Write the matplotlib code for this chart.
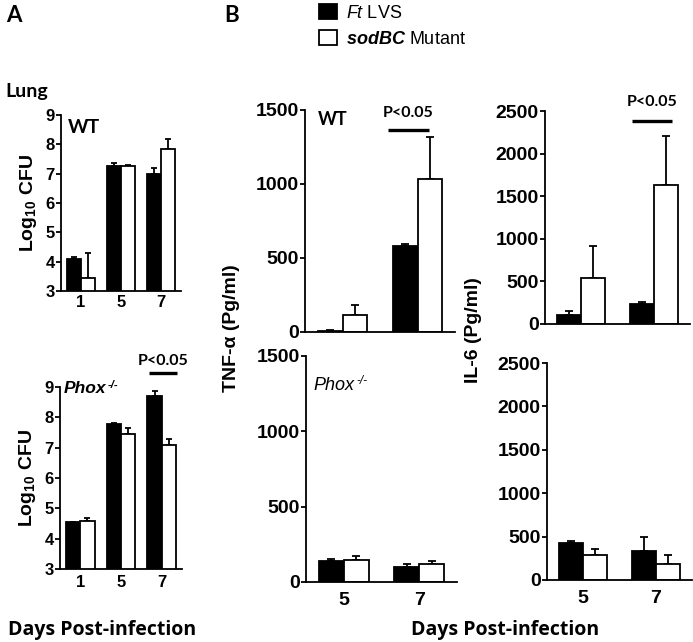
import numpy as np
import matplotlib
matplotlib.use("Agg")
import matplotlib.pyplot as plt

plt.rcParams['font.family'] = 'Liberation Sans'
plt.rcParams['mathtext.fontset'] = 'custom'
plt.rcParams['mathtext.rm'] = 'Liberation Sans'
plt.rcParams['mathtext.it'] = 'Liberation Sans:italic'
plt.rcParams['mathtext.bf'] = 'Liberation Sans:bold'
plt.rcParams['mathtext.bfit'] = 'Liberation Sans:bold:italic'

# Panel A: lung CFU (log10)
a_days = ['1', '5', '7']
a_wt_lvs = [4.10, 7.27, 6.99]
a_wt_lvs_err = [0.06, 0.11, 0.20]
a_wt_mut = [3.43, 7.27, 7.84]
a_wt_mut_err = [0.85, 0.03, 0.34]
a_phox_lvs = [4.54, 7.77, 8.71]
a_phox_lvs_err = [0.0, 0.05, 0.17]
a_phox_mut = [4.57, 7.45, 7.09]
a_phox_mut_err = [0.10, 0.19, 0.20]

# Panel B: cytokines (pg/ml)
b_days = ['5', '7']
tnf_wt_lvs = [10, 582]
tnf_wt_lvs_err = [6, 11]
tnf_wt_mut = [113, 1031]
tnf_wt_mut_err = [72, 284]
il6_wt_lvs = [106, 235]
il6_wt_lvs_err = [47, 27]
il6_wt_mut = [536, 1631]
il6_wt_mut_err = [379, 579]
tnf_phox_lvs = [137, 99]
tnf_phox_lvs_err = [18, 22]
tnf_phox_mut = [148, 119]
tnf_phox_mut_err = [22, 20]
il6_phox_lvs = [423, 335]
il6_phox_lvs_err = [31, 165]
il6_phox_mut = [288, 181]
il6_phox_mut_err = [66, 107]

W, H = 693, 642
fig = plt.figure(figsize=(W / 100, H / 100), dpi=100)


def box(left, right, top, bottom):
    return [left / W, 1 - bottom / H, (right - left) / W, (bottom - top) / H]


def bar_panel(rect, lvs, lvs_err, mut, mut_err, ylim, yticks, width, tick_size,
              labels=None, label_pad=4):
    ax = fig.add_axes(rect)
    x = np.arange(len(lvs))
    b1 = ax.bar(x - width / 2, lvs, width, color='black', edgecolor='black',
                linewidth=1.3, zorder=2)
    b2 = ax.bar(x + width / 2, mut, width, color='white', edgecolor='black',
                linewidth=1.3, zorder=2)
    cap = 3.0 if width < 0.34 else 2.2
    ax.errorbar(x - width / 2, lvs, yerr=[np.zeros(len(lvs)), lvs_err], fmt='none',
                ecolor='black', elinewidth=1.3, capsize=cap, capthick=1.3, zorder=1.5)
    ax.errorbar(x + width / 2, mut, yerr=[np.zeros(len(mut)), mut_err], fmt='none',
                ecolor='black', elinewidth=1.3, capsize=cap, capthick=1.3, zorder=1.5)
    ax.set_xlim(-0.5, len(lvs) - 0.5)
    ax.set_ylim(*ylim)
    ax.set_yticks(yticks)
    ax.spines['top'].set_visible(False)
    ax.spines['right'].set_visible(False)
    ax.spines['left'].set_linewidth(1.3)
    ax.spines['bottom'].set_linewidth(1.3)
    ax.tick_params(axis='y', length=3.5, width=1.3, pad=1, labelsize=tick_size)
    for t in ax.get_yticklabels():
        t.set_fontweight('bold')
    if labels is None:
        ax.set_xticks([])
    else:
        ax.set_xticks(x)
        ax.set_xticklabels(labels, fontsize=tick_size, fontweight='bold')
        ax.tick_params(axis='x', length=0, pad=label_pad)
    return ax, b1, b2


def sig(ax, x0, x1, y, ty, text='P<0.05'):
    ax.plot([x0, x1], [y, y], color='black', linewidth=2.4, clip_on=False,
            solid_capstyle='butt')
    ax.text((x0 + x1) / 2, ty, text, ha='center', va='center', fontsize=11.5,
            fontweight='bold', family='Lato')


def phox(ax, x, y, size, weight):
    t = ax.text(x, y, 'Phox', transform=ax.transAxes, fontsize=size,
                fontweight=weight, style='italic', va='center')
    ax.annotate('-/-', xy=(1, 0.75), xycoords=t, xytext=(1, 0),
                textcoords='offset points', fontsize=size * 0.65,
                fontweight=weight, style='italic', va='center')


# Panel A
ax_a1, _, _ = bar_panel(box(61, 181, 115, 291), a_wt_lvs, a_wt_lvs_err,
                        a_wt_mut, a_wt_mut_err, (3, 9), range(3, 10), 0.35, 12,
                        labels=a_days, label_pad=3)
ax_a2, _, _ = bar_panel(box(60, 182, 387, 569), a_phox_lvs, a_phox_lvs_err,
                        a_phox_mut, a_phox_mut_err, (3, 9), range(3, 10), 0.35, 12,
                        labels=a_days, label_pad=4)
for ax in (ax_a1, ax_a2):
    ax.set_ylabel(r'Log$_{\mathbf{10}}$ CFU', fontsize=14, fontweight='bold', labelpad=5)
ax_a1.text(0.06, 0.93, 'WT', transform=ax_a1.transAxes, fontsize=14,
           fontweight='bold', family='Lato', va='center')
phox(ax_a2, 0.03, 0.99, 12.5, 'bold')
sig(ax_a2, 2 - 0.31, 2 + 0.37, 9.46, 9.85)

# Panel B
ax_b1, h1, h2 = bar_panel(box(305, 455, 110, 332), tnf_wt_lvs, tnf_wt_lvs_err,
                          tnf_wt_mut, tnf_wt_mut_err, (0, 1500), [0, 500, 1000, 1500],
                          0.33, 14)
ax_b2, _, _ = bar_panel(box(545, 690, 111, 324), il6_wt_lvs, il6_wt_lvs_err,
                        il6_wt_mut, il6_wt_mut_err, (0, 2500), range(0, 2501, 500),
                        0.33, 14)
ax_b3, _, _ = bar_panel(box(306, 457, 356, 582), tnf_phox_lvs, tnf_phox_lvs_err,
                        tnf_phox_mut, tnf_phox_mut_err, (0, 1500), [0, 500, 1000, 1500],
                        0.33, 14, labels=b_days, label_pad=7)
ax_b4, _, _ = bar_panel(box(547, 692, 363, 580), il6_phox_lvs, il6_phox_lvs_err,
                        il6_phox_mut, il6_phox_mut_err, (0, 2500), range(0, 2501, 500),
                        0.33, 14, labels=b_days, label_pad=7)

ax_b1.text(0.087, 0.955, 'WT', transform=ax_b1.transAxes, fontsize=13,
           fontweight='bold', family='Lato', va='center')
phox(ax_b3, 0.05, 0.87, 13, 'normal')
sig(ax_b1, 1 - 0.39, 1 + 0.15, 1365, 1480)
sig(ax_b2, 1 - 0.30, 1 + 0.25, 2383, 2600)

fig.text(232 / W, 1 - 328 / H, 'TNF-α (Pg/ml)', rotation=90, ha='center',
         va='center', fontsize=14, fontweight='bold')
fig.text(473 / W, 1 - 330 / H, 'IL-6 (Pg/ml)', rotation=90, ha='center',
         va='center', fontsize=14, fontweight='bold')

# Titles, panel letters, axis titles
fig.text(6 / W, 1 - 15 / H, 'A', fontsize=16, fontweight='bold', family='Lato',
         va='center')
fig.text(224 / W, 1 - 15 / H, 'B', fontsize=16, fontweight='bold', family='Lato',
         va='center')
fig.text(5 / W, 1 - 91 / H, 'Lung', fontsize=14, fontweight='bold', family='Lato',
         va='center')
fig.text(102 / W, 1 - 630 / H, 'Days Post-infection', fontsize=14,
         fontweight='bold', family='Open Sans', ha='center', va='center')
fig.text(505 / W, 1 - 630 / H, 'Days Post-infection', fontsize=14,
         fontweight='bold', family='Open Sans', ha='center', va='center')

fig.legend([h1, h2], [r'$Ft$ LVS', r'$\mathbfit{sodBC}$ Mutant'],
           loc='upper left', bbox_to_anchor=(319 / W, 1 - 4 / H), frameon=False,
           fontsize=13, handlelength=1.0, handleheight=0.9, handletextpad=0.5,
           labelspacing=0.45, borderpad=0, borderaxespad=0)

fig.savefig('out.png', dpi=100)
